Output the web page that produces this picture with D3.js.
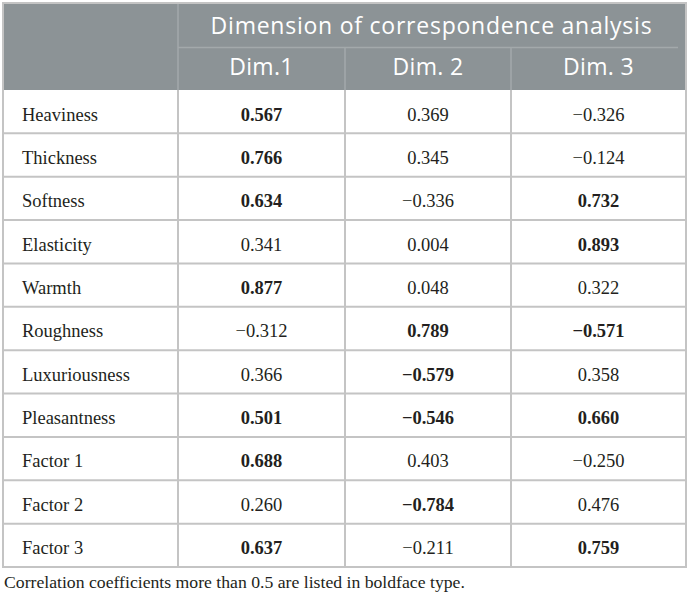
<!DOCTYPE html>
<html><head><meta charset="utf-8">
<script src="https://cdn.jsdelivr.net/npm/d3@7"></script>
<style>html,body{margin:0;padding:0;background:#fff;}</style>
</head><body>
<svg id="c" width="690" height="594"></svg>
<script>
const groupTitle = "Dimension of correspondence analysis";
const dims = ["Dim.1", "Dim. 2", "Dim. 3"];
const items = ["Heaviness","Thickness","Softness","Elasticity","Warmth","Roughness","Luxuriousness","Pleasantness","Factor 1","Factor 2","Factor 3"];
const dim1 = [0.567,0.766,0.634,0.341,0.877,-0.312,0.366,0.501,0.688,0.260,0.637];
const dim2 = [0.369,0.345,-0.336,0.004,0.048,0.789,-0.579,-0.546,0.403,-0.784,-0.211];
const dim3 = [-0.326,-0.124,0.732,0.893,0.322,-0.571,0.358,0.660,-0.250,0.476,0.759];
const footnote = "Correlation coefficients more than 0.5 are listed in boldface type.";

const series = [dim1, dim2, dim3];
const svg = d3.select("#c");
const L = 3, R = 686, T = 3, H1 = 47.5, H2 = 90, B = 567;
const firstColR = 178;
const colEdges = [firstColR, 345, 511, R];
const grid = "#c4c4c4", hdr = "#8c9396", hdrLine = "#a3a9ab";
const ink = "#231f20";

const y = d3.scaleBand().domain(items).range([H2, B]);
const fmt = d3.format(".3f");

svg.append("rect").attr("x", L).attr("y", T).attr("width", R - L).attr("height", H2 - T).attr("fill", hdr);
svg.append("line").attr("x1", firstColR).attr("x2", 678).attr("y1", H1).attr("y2", H1).attr("stroke", hdrLine).attr("stroke-width", 1.5);
svg.append("line").attr("x1", firstColR).attr("x2", firstColR).attr("y1", T).attr("y2", H2).attr("stroke", hdrLine).attr("stroke-width", 1.5);
[colEdges[1], colEdges[2]].forEach(x => svg.append("line").attr("x1", x).attr("x2", x).attr("y1", H1).attr("y2", H2).attr("stroke", hdrLine).attr("stroke-width", 1.5));

function fitSpacing(sel, target) {
  const n = sel.text().length;
  const w = sel.node().getComputedTextLength();
  sel.attr("letter-spacing", (target - w) / Math.max(1, n - 1));
}
const hFont = "'Open Sans', sans-serif";
const t = svg.append("text").attr("x", (firstColR + R) / 2 - 0.5).attr("y", 34).attr("text-anchor", "middle")
  .attr("fill", "#fff").attr("font-family", hFont).attr("font-size", 23).text(groupTitle);
fitSpacing(t, 441);
dims.forEach((d, i) => {
  svg.append("text").attr("x", (colEdges[i] + colEdges[i + 1]) / 2).attr("y", 75).attr("text-anchor", "middle")
    .attr("fill", "#fff").attr("font-family", hFont).attr("font-size", 23).attr("letter-spacing", 0.3).text(d);
});

items.forEach((it, i) => {
  if (i > 0) svg.append("line").attr("x1", L).attr("x2", R).attr("y1", y(it)).attr("y2", y(it)).attr("stroke", grid).attr("stroke-width", 2);
});
[firstColR, colEdges[1], colEdges[2]].forEach(x => svg.append("line").attr("x1", x).attr("x2", x).attr("y1", H2).attr("y2", B).attr("stroke", grid).attr("stroke-width", 2));
svg.append("rect").attr("x", L).attr("y", T).attr("width", R - L).attr("height", B - T).attr("fill", "none").attr("stroke", grid).attr("stroke-width", 2);

const bodyFont = "'Liberation Serif', 'Times New Roman', serif";
items.forEach((it, r) => {
  const by = y(it) + 30.5;
  svg.append("text").attr("x", 22).attr("y", by).attr("font-family", bodyFont).attr("font-size", 18.5).attr("fill", ink).text(it);
  series.forEach((s, c) => {
    const v = s[r];
    svg.append("text").attr("x", (colEdges[c] + colEdges[c + 1]) / 2).attr("y", by).attr("text-anchor", "middle")
      .attr("font-family", bodyFont).attr("font-size", 18.5).attr("fill", ink).attr("font-weight", Math.abs(v) > 0.5 ? "bold" : "normal").text(fmt(v));
  });
});

svg.append("text").attr("x", 4).attr("y", 587.5).attr("font-family", bodyFont).attr("font-size", 17.7).attr("fill", ink).text(footnote);
</script>
</body></html>
